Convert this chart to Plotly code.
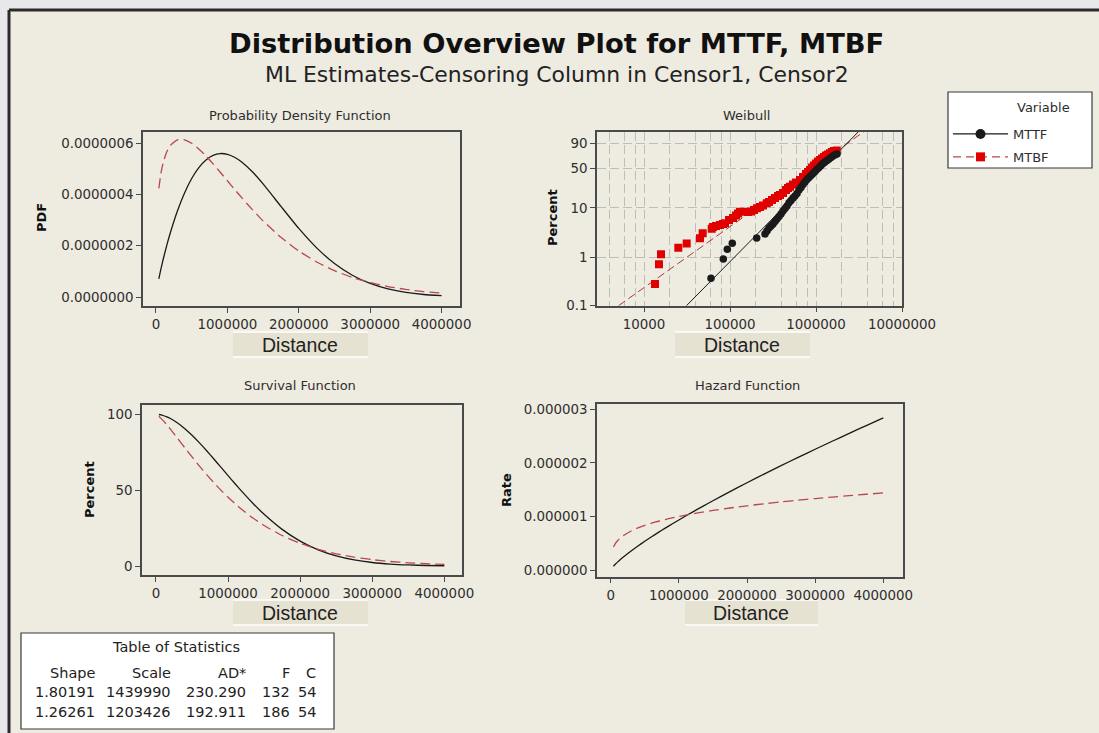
import math
import plotly.graph_objects as go

# ---------------- data ----------------
dist = [40000, 70000, 100000, 150000, 200000, 300000, 400000, 500000, 600000, 700000,
        800000, 900000, 1000000, 1100000, 1200000, 1350000, 1500000, 1750000, 2000000, 2250000,
        2500000, 2750000, 3000000, 3250000, 3500000, 3750000, 4000000]

pdf_mttf = [7.06e-8, 1.103e-7, 1.462e-7, 2.006e-7, 2.497e-7, 3.353e-7, 4.056e-7, 4.618e-7, 5.044e-7, 5.343e-7,
            5.522e-7, 5.591e-7, 5.562e-7, 5.448e-7, 5.262e-7, 4.878e-7, 4.407e-7, 3.533e-7, 2.672e-7, 1.915e-7,
            1.306e-7, 8.50e-8, 5.29e-8, 3.15e-8, 1.80e-8, 9.9e-9, 5.2e-9]
pdf_mtbf = [4.234e-7, 4.836e-7, 5.228e-7, 5.650e-7, 5.904e-7, 6.127e-7, 6.125e-7, 5.990e-7, 5.769e-7, 5.495e-7,
            5.187e-7, 4.862e-7, 4.529e-7, 4.197e-7, 3.871e-7, 3.403e-7, 2.968e-7, 2.327e-7, 1.795e-7, 1.365e-7,
            1.026e-7, 7.62e-8, 5.61e-8, 4.09e-8, 2.96e-8, 2.12e-8, 1.51e-8]

surv_mttf = [99.84, 99.57, 99.18, 98.32, 97.19, 94.25, 90.53, 86.19, 81.34, 76.14,
             70.70, 65.13, 59.55, 54.04, 48.68, 41.06, 34.08, 24.15, 16.41, 10.70,
             6.71, 4.04, 2.34, 1.31, 0.71, 0.37, 0.18]
surv_mtbf = [98.65, 97.28, 95.77, 93.04, 90.15, 84.11, 77.97, 71.90, 66.01, 60.38,
             55.04, 50.01, 45.32, 40.95, 36.92, 31.47, 26.70, 20.10, 14.97, 11.04,
             8.07, 5.85, 4.21, 3.00, 2.13, 1.50, 1.05]

haz_mttf = [7.07e-8, 1.107e-7, 1.474e-7, 2.040e-7, 2.570e-7, 3.557e-7, 4.480e-7, 5.358e-7, 6.201e-7, 7.017e-7,
            7.810e-7, 8.585e-7, 9.341e-7, 1.0083e-6, 1.0811e-6, 1.1882e-6, 1.2930e-6, 1.4631e-6, 1.6285e-6, 1.7898e-6,
            1.9476e-6, 2.1023e-6, 2.2542e-6, 2.4036e-6, 2.5508e-6, 2.6959e-6, 2.8391e-6]
haz_mtbf = [4.292e-7, 4.971e-7, 5.459e-7, 6.072e-7, 6.549e-7, 7.285e-7, 7.857e-7, 8.331e-7, 8.739e-7, 9.100e-7,
            9.425e-7, 9.721e-7, 9.994e-7, 1.0247e-6, 1.0484e-6, 1.0813e-6, 1.1117e-6, 1.1576e-6, 1.1989e-6, 1.2366e-6,
            1.2713e-6, 1.3035e-6, 1.3336e-6, 1.3619e-6, 1.3887e-6, 1.4141e-6, 1.4383e-6]

wb_mttf_x = [60130, 83580, 93030, 106300, 204400, 255300, 269300, 284100, 299700, 316200,
             333700, 352000, 371400, 391800, 413300, 436100, 460100, 485300, 512100, 540200,
             570000, 601300, 634300, 669200, 706200, 745000, 786000, 829300, 874900, 923000,
             973600, 1027000, 1084000, 1143000, 1206000, 1273000, 1343000, 1417000, 1494000, 1577000,
             1663000, 1755000]
wb_mttf_pct = [0.37, 0.92, 1.47, 1.95, 2.5, 3.02, 3.47, 3.99, 4.39, 4.82,
               5.41, 6.07, 6.81, 7.64, 8.76, 9.82, 11.0, 12.6, 14.0, 15.6,
               17.1, 19.0, 22.0, 24.5, 27.7, 30.6, 33.7, 36.4, 39.1, 42.2,
               45.1, 48.6, 51.8, 55.0, 58.5, 61.1, 63.7, 66.3, 69.0, 71.6,
               73.5, 75.0]

wb_mtbf_x = [13420, 14940, 15770, 25050, 31370, 44790, 48150, 61270, 63440, 68740,
             76500, 82900, 87500, 97360, 108400, 117450, 123900, 130700, 161900, 175500,
             190100, 206100, 223300, 241900, 267200, 284100, 307900, 333700, 361500, 381400,
             413300, 447900, 472500, 498600, 540200, 585400, 651700, 706200, 765200, 807400,
             851600, 898600, 947800, 1000000, 1055000, 1113000, 1174000, 1239000, 1307000, 1379000,
             1455000, 1535000, 1619000, 1741000]
wb_mtbf_pct = [0.28, 0.72, 1.16, 1.58, 1.91, 2.47, 3.12, 3.82, 4.19, 4.39,
               4.60, 4.82, 4.97, 5.80, 6.36, 7.13, 7.82, 8.48, 8.37, 8.56,
               9.17, 9.91, 10.5, 11.2, 12.4, 13.1, 14.3, 15.6, 17.1, 17.8,
               19.4, 22.0, 24.0, 25.3, 27.7, 30.0, 33.0, 37.1, 41.4, 44.3,
               47.7, 51.8, 55.0, 58.5, 62.0, 64.7, 67.1, 69.8, 72.4, 74.0,
               76.0, 78.2, 79.6, 80.5]

fit_mttf_x = [31150, 3300000]
fit_mttf_pct = [0.1, 98.8]
fit_mtbf_x = [5060, 3900000]
fit_mtbf_pct = [0.1, 98.8]

lin_ticks = [0, 1000000, 2000000, 3000000, 4000000]
log_ticks = [10000, 100000, 1000000, 10000000]
log_minor = [4000, 6000, 8000, 20000, 40000, 60000, 80000, 200000, 400000, 600000, 800000,
             2000000, 4000000, 6000000, 8000000]
wb_ticks = [0.1, 1, 10, 50, 90]
pdf_ticks = [0.0, 2e-7, 4e-7, 6e-7]
surv_ticks = [0, 50, 100]
haz_ticks = [0.0, 1e-6, 2e-6, 3e-6]

variables = ["MTTF", "MTBF"]
stat_cols = ["Shape", "Scale", "AD*", "F", "C"]
stat_shape = [1.80191, 1.26261]
stat_scale = [1439990, 1203426]
stat_ad = [230.290, 192.911]
stat_f = [132, 186]
stat_c = [54, 54]

# ---------------- styling ----------------
W, H = 1099, 733
BG = "#EEEBE1"
BLACK = "#1a1a1a"
RED_LINE = "#B9474E"
RED_PT = "#E00000"
AX = "#4a4a4a"
TXT = "#2e2e2e"
FONT = "DejaVu Sans"
GRID = "#BDBDBD"


def fx(p):
    return p / W


def fy(p):
    return 1 - p / H


def wb(p):
    return math.log(-math.log(1 - p / 100.0))


def lin_labels(vals, fmt):
    return [fmt.format(v) for v in vals]


fig = go.Figure()

common_line = dict(width=1.3, shape="spline", smoothing=0.5)
dash_red = "10px,5px"
# PDF
fig.add_trace(go.Scatter(x=dist, y=pdf_mttf, mode="lines", xaxis="x", yaxis="y", name="MTTF",
                         line=dict(color=BLACK, **common_line), showlegend=False))
fig.add_trace(go.Scatter(x=dist, y=pdf_mtbf, mode="lines", xaxis="x", yaxis="y", name="MTBF",
                         line=dict(color=RED_LINE, dash=dash_red, **common_line), showlegend=False))
# Survival
fig.add_trace(go.Scatter(x=dist, y=surv_mttf, mode="lines", xaxis="x3", yaxis="y3", name="MTTF",
                         line=dict(color=BLACK, **common_line), showlegend=False))
fig.add_trace(go.Scatter(x=dist, y=surv_mtbf, mode="lines", xaxis="x3", yaxis="y3", name="MTBF",
                         line=dict(color=RED_LINE, dash=dash_red, **common_line), showlegend=False))
# Hazard
fig.add_trace(go.Scatter(x=dist, y=haz_mttf, mode="lines", xaxis="x4", yaxis="y4", name="MTTF",
                         line=dict(color=BLACK, **common_line), showlegend=False))
fig.add_trace(go.Scatter(x=dist, y=haz_mtbf, mode="lines", xaxis="x4", yaxis="y4", name="MTBF",
                         line=dict(color=RED_LINE, dash=dash_red, **common_line), showlegend=False))
# Weibull probability plot
fig.add_trace(go.Scatter(x=fit_mtbf_x, y=[wb(p) for p in fit_mtbf_pct], mode="lines", xaxis="x2", yaxis="y2",
                         line=dict(color="#A83A3A", width=1, dash="8px,4px"), showlegend=False))
fig.add_trace(go.Scatter(x=fit_mttf_x, y=[wb(p) for p in fit_mttf_pct], mode="lines", xaxis="x2", yaxis="y2",
                         line=dict(color=BLACK, width=1), showlegend=False))
fig.add_trace(go.Scatter(x=wb_mtbf_x, y=[wb(p) for p in wb_mtbf_pct], mode="markers", xaxis="x2", yaxis="y2",
                         marker=dict(symbol="square", size=8, color=RED_PT), showlegend=False,
                         customdata=wb_mtbf_pct, hovertemplate="%{x}<br>%{customdata}%<extra>MTBF</extra>"))
fig.add_trace(go.Scatter(x=wb_mttf_x, y=[wb(p) for p in wb_mttf_pct], mode="markers", xaxis="x2", yaxis="y2",
                         marker=dict(symbol="circle", size=7.5, color=BLACK), showlegend=False,
                         customdata=wb_mttf_pct, hovertemplate="%{x}<br>%{customdata}%<extra>MTTF</extra>"))
# legend entries
fig.add_trace(go.Scatter(x=[None], y=[None], mode="lines+markers", name=variables[0], legendgroup="a",
                         line=dict(color=BLACK, width=1.3), marker=dict(symbol="circle", size=10, color=BLACK)))
fig.add_trace(go.Scatter(x=[None], y=[None], mode="lines+markers", name=variables[1], legendgroup="b",
                         line=dict(color=RED_LINE, width=1.3, dash="8px,5px"),
                         marker=dict(symbol="square", size=9, color=RED_PT)))

tickfont = dict(family=FONT, size=13.4, color=TXT)
axbase = dict(showline=True, mirror=True, linecolor=AX, linewidth=1.5, ticks="outside", ticklen=5,
              tickcolor=AX, tickfont=tickfont, showgrid=False, zeroline=False, automargin=False)

# pixel boxes: (left, right, top, bottom)
pdf_box = (143, 460, 132, 306)
wb_box = (597, 902, 131.7, 305.7)
sv_box = (142, 462, 405, 575)
hz_box = (597, 903, 404.3, 576.7)

fig.update_layout(
    width=W, height=H, margin=dict(l=0, r=0, t=0, b=0, pad=0, autoexpand=False),
    paper_bgcolor="#E8E8EA", plot_bgcolor="white",
    font=dict(family=FONT, color=TXT),
    xaxis=dict(axbase, domain=[fx(pdf_box[0]), fx(pdf_box[1])], range=[-182000, 4258000],
               tickvals=lin_ticks, ticktext=lin_labels(lin_ticks, "{:d}"), anchor="y"),
    yaxis=dict(axbase, domain=[fy(pdf_box[3]), fy(pdf_box[2])], range=[-3.5e-8, 6.43e-7],
               tickvals=pdf_ticks, ticktext=lin_labels(pdf_ticks, "{:.7f}"), anchor="x"),
    xaxis2=dict(axbase, type="log", domain=[fx(wb_box[0]), fx(wb_box[1])], range=[3.4535, 7.0],
                tickvals=log_ticks, ticktext=lin_labels(log_ticks, "{:d}"), anchor="y2",
                showgrid=True, gridcolor=GRID, griddash="9px,4px", gridwidth=1.2,
                minor=dict(tickvals=log_minor, showgrid=True, gridcolor=GRID, griddash="9px,4px",
                           gridwidth=1.2, ticks="")),
    yaxis2=dict(axbase, domain=[fy(wb_box[3]), fy(wb_box[2])], range=[wb(0.1), 1.386],
                tickvals=[wb(p) for p in wb_ticks], ticktext=[str(p) for p in wb_ticks], anchor="x2",
                showgrid=True, gridcolor=GRID, griddash="9px,4px", gridwidth=1.2),
    xaxis3=dict(axbase, domain=[fx(sv_box[0]), fx(sv_box[1])], range=[-194000, 4245000],
                tickvals=lin_ticks, ticktext=lin_labels(lin_ticks, "{:d}"), anchor="y3"),
    yaxis3=dict(axbase, domain=[fy(sv_box[3]), fy(sv_box[2])], range=[-5.9, 106.1],
                tickvals=surv_ticks, ticktext=lin_labels(surv_ticks, "{:d}"), anchor="x3"),
    xaxis4=dict(axbase, domain=[fx(hz_box[0]), fx(hz_box[1])], range=[-201000, 4289000],
                tickvals=lin_ticks, ticktext=lin_labels(lin_ticks, "{:d}"), anchor="y4"),
    yaxis4=dict(axbase, domain=[fy(hz_box[3]), fy(hz_box[2])], range=[-0.125e-6, 3.093e-6],
                tickvals=haz_ticks, ticktext=lin_labels(haz_ticks, "{:.6f}"), anchor="x4"),
    legend=dict(x=fx(948), y=fy(119), xanchor="left", yanchor="top", bgcolor="rgba(0,0,0,0)",
                borderwidth=0, itemwidth=55, tracegroupgap=3,
                font=dict(family=FONT, size=13, color=TXT)),
    showlegend=True,
)

shapes = []
# window frame (kept inside the paper so nothing overflows)
shapes.append(dict(type="rect", xref="paper", yref="paper", x0=fx(9), x1=1, y0=0, y1=fy(10),
                   line=dict(width=0), fillcolor=BG, layer="below"))
shapes.append(dict(type="line", xref="paper", yref="paper", x0=fx(9), x1=1, y0=fy(10), y1=fy(10),
                   line=dict(color="#2b2b2b", width=3), layer="below"))
shapes.append(dict(type="line", xref="paper", yref="paper", x0=fx(9), x1=fx(9), y0=0, y1=fy(10),
                   line=dict(color="#2b2b2b", width=3), layer="below"))
# legend box
shapes.append(dict(type="rect", xref="paper", yref="paper", x0=fx(948), x1=fx(1092), y0=fy(168), y1=fy(92),
                   line=dict(color="#3a3a3a", width=1.2), fillcolor="white", layer="below"))
# table box
shapes.append(dict(type="rect", xref="paper", yref="paper", x0=fx(21), x1=fx(334), y0=fy(729), y1=fy(633),
                   line=dict(color="#3a3a3a", width=1.2), fillcolor="white", layer="below"))
# x-axis label boxes
label_boxes = [(233, 368, 332, 357, 300, 345), (675, 810, 332, 357, 742, 345),
               (233, 368, 600, 625, 300, 613), (685, 818, 600, 625, 751, 613)]
annotations = []
for (l, r, t, b, cx, cy) in label_boxes:
    shapes.append(dict(type="rect", xref="paper", yref="paper", x0=fx(l), x1=fx(r), y0=fy(b), y1=fy(t),
                       line=dict(width=0), fillcolor="#E6E2D2", layer="below"))
    for yy in (t, b):
        shapes.append(dict(type="line", xref="paper", yref="paper", x0=fx(l), x1=fx(r), y0=fy(yy), y1=fy(yy),
                           line=dict(color="white", width=1.5), layer="below"))
    annotations.append(dict(text="Distance", x=fx(cx), y=fy(cy), xref="paper", yref="paper", showarrow=False,
                            xanchor="center", yanchor="middle",
                            font=dict(family="Liberation Sans", size=19.5, color="#222")))

# legend heading
annotations.append(dict(text="Variable", x=fx(1043), y=fy(108), xref="paper", yref="paper", showarrow=False,
                        xanchor="center", yanchor="middle", font=dict(family=FONT, size=13, color=TXT)))
# titles
annotations.append(dict(text="<b>Distribution Overview Plot for MTTF, MTBF</b>", x=fx(556), y=fy(43),
                        xref="paper", yref="paper", showarrow=False, xanchor="center", yanchor="middle",
                        font=dict(family=FONT, size=27.3, color="#111")))
annotations.append(dict(text="ML Estimates-Censoring Column in Censor1, Censor2", x=fx(557), y=fy(75),
                        xref="paper", yref="paper", showarrow=False, xanchor="center", yanchor="middle",
                        font=dict(family=FONT, size=21.9, color="#222")))
# panel titles
for txt, cx, cy in [("Probability Density Function", 300, 115), ("Weibull", 746, 115),
                    ("Survival Function", 300, 385), ("Hazard Function", 747, 385)]:
    annotations.append(dict(text=txt, x=fx(cx), y=fy(cy), xref="paper", yref="paper", showarrow=False,
                            xanchor="center", yanchor="middle", font=dict(family=FONT, size=13, color=TXT)))
# y-axis titles
for txt, cx, cy in [("PDF", 41, 218), ("Percent", 552, 218), ("Percent", 89, 490), ("Rate", 506, 490)]:
    annotations.append(dict(text="<b>" + txt + "</b>", x=fx(cx), y=fy(cy), xref="paper", yref="paper",
                            showarrow=False, textangle=-90, xanchor="center", yanchor="middle",
                            font=dict(family=FONT, size=13, color="#111")))

# table of statistics
tfont = dict(family=FONT, size=14.5, color="#222")
annotations.append(dict(text="Table of Statistics", x=fx(176), y=fy(647), xref="paper", yref="paper",
                        showarrow=False, xanchor="center", yanchor="middle", font=tfont))
col_right = [97, 173, 248, 292, 318]
for name, xr in zip(stat_cols, col_right):
    annotations.append(dict(text=name, x=fx(xr), y=fy(673), xref="paper", yref="paper", showarrow=False,
                            xanchor="right", yanchor="middle", font=tfont))
row_y = [692, 712]
for i in range(2):
    cells = ["{:.5f}".format(stat_shape[i]), "{:d}".format(stat_scale[i]), "{:.3f}".format(stat_ad[i]),
             "{:d}".format(stat_f[i]), "{:d}".format(stat_c[i])]
    for c, xr in zip(cells, col_right):
        annotations.append(dict(text=c, x=fx(xr), y=fy(row_y[i]), xref="paper", yref="paper", showarrow=False,
                                xanchor="right", yanchor="middle", font=tfont))

fig.update_layout(shapes=shapes, annotations=annotations)
fig.write_html("out.html", config={"displayModeBar": False},
               post_script="document.body.style.margin='0';document.body.style.overflow='hidden';")
